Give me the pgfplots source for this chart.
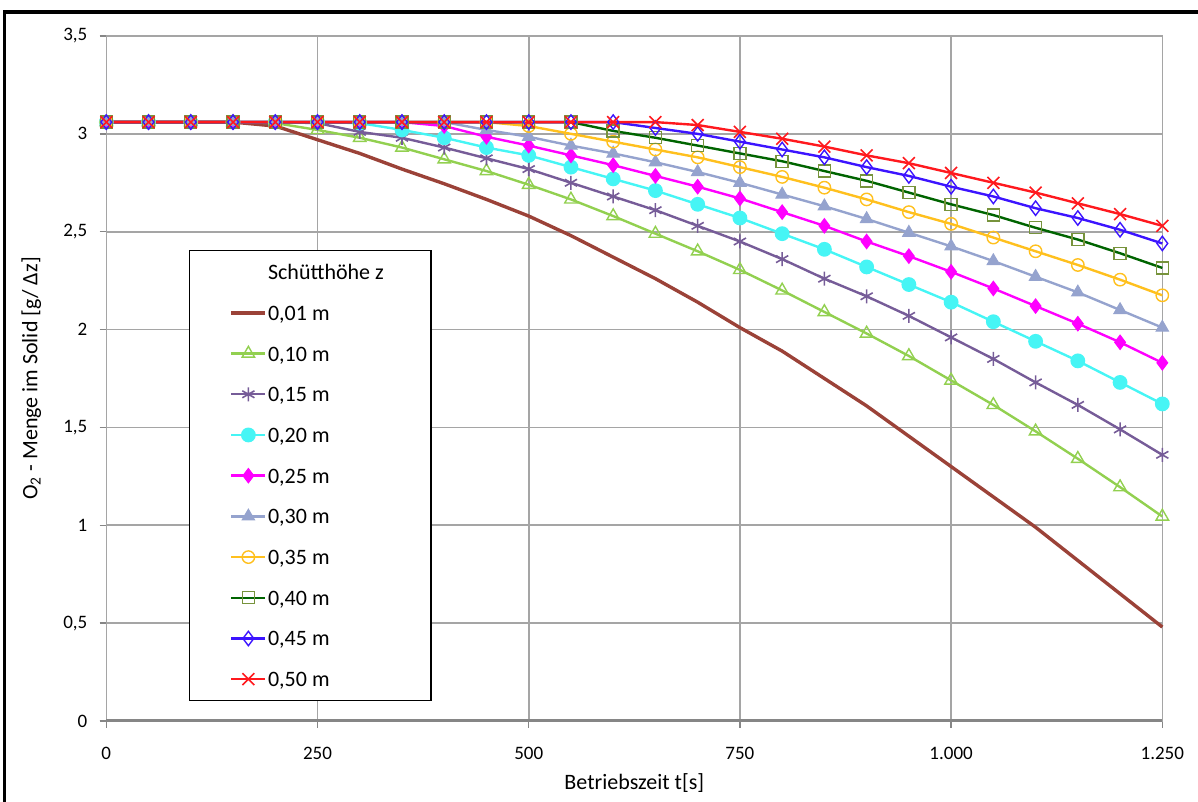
\documentclass[border=0pt]{standalone}
\usepackage{pgfplots}
\pgfplotsset{compat=1.18}
\usepackage{pgfplotstable}
\usepackage{fontspec}
\setmainfont{Carlito}

\definecolor{c01}{RGB}{155,66,56}
\definecolor{c10}{RGB}{146,208,80}
\definecolor{c15}{RGB}{118,92,152}
\definecolor{c20}{RGB}{70,245,245}
\definecolor{c25}{RGB}{255,0,255}
\definecolor{c30}{RGB}{149,163,206}
\definecolor{c35}{RGB}{255,192,30}
\definecolor{c40l}{RGB}{0,100,0}
\definecolor{c40m}{RGB}{119,147,60}
\definecolor{c45}{RGB}{60,20,255}
\definecolor{c50}{RGB}{255,25,30}
\definecolor{gridgray}{RGB}{165,165,165}
\definecolor{axgray}{RGB}{134,134,134}

\pgfplotstableread{
t    s01   s10   s15   s20   s25   s30   s35   s40   s45   s50
0    3.06  3.06  3.06  3.06  3.06  3.06  3.06  3.06  3.06  3.06
50   3.06  3.06  3.06  3.06  3.06  3.06  3.06  3.06  3.06  3.06
100  3.06  3.06  3.06  3.06  3.06  3.06  3.06  3.06  3.06  3.06
150  3.06  3.06  3.06  3.06  3.06  3.06  3.06  3.06  3.06  3.06
200  3.04  3.055 3.06  3.06  3.06  3.06  3.06  3.06  3.06  3.06
250  2.97  3.02  3.055 3.06  3.06  3.06  3.06  3.06  3.06  3.06
300  2.90  2.98  3.01  3.055 3.06  3.06  3.06  3.06  3.06  3.06
350  2.82  2.93  2.98  3.02  3.06  3.06  3.06  3.06  3.06  3.06
400  2.745 2.87  2.93  2.98  3.04  3.06  3.06  3.06  3.06  3.06
450  2.665 2.81  2.875 2.93  2.985 3.02  3.06  3.06  3.06  3.06
500  2.58  2.74  2.82  2.89  2.94  2.985 3.04  3.06  3.06  3.06
550  2.48  2.665 2.75  2.83  2.89  2.94  3.00  3.06  3.06  3.06
600  2.37  2.58  2.68  2.77  2.84  2.90  2.96  3.015 3.06  3.06
650  2.26  2.49  2.61  2.71  2.785 2.855 2.92  2.98  3.03  3.06
700  2.14  2.40  2.53  2.64  2.73  2.805 2.88  2.94  3.00  3.045
750  2.01  2.305 2.45  2.57  2.67  2.75  2.83  2.90  2.96  3.01
800  1.89  2.20  2.36  2.49  2.60  2.69  2.78  2.86  2.92  2.975
850  1.75  2.09  2.26  2.41  2.53  2.63  2.725 2.81  2.88  2.935
900  1.61  1.98  2.17  2.32  2.45  2.565 2.665 2.76  2.83  2.89
950  1.455 1.865 2.07  2.23  2.375 2.495 2.60  2.70  2.785 2.85
1000 1.30  1.74  1.96  2.14  2.295 2.425 2.54  2.64  2.73  2.80
1050 1.145 1.615 1.85  2.04  2.21  2.35  2.47  2.585 2.68  2.75
1100 0.99  1.48  1.73  1.94  2.12  2.27  2.40  2.52  2.62  2.70
1150 0.82  1.34  1.615 1.84  2.03  2.19  2.33  2.46  2.57  2.645
1200 0.65  1.195 1.49  1.73  1.935 2.10  2.255 2.39  2.51  2.59
1250 0.48  1.045 1.36  1.62  1.83  2.01  2.175 2.315 2.44  2.53
}\datatable

\begin{document}
\fontsize{11pt}{13pt}\selectfont
\begin{tikzpicture}
\useasboundingbox (0,0) rectangle (599pt,401pt);
\draw[line width=1.6pt] (2.2pt,-2pt) -- (2.2pt,395pt) -- (601pt,395pt);
\begin{axis}[
  at={(53.15pt,40.5pt)}, anchor=south west,
  scale only axis, width=528pt, height=342.5pt,
  xmin=0, xmax=1250, ymin=0, ymax=3.5,
  xtick={0,250,500,750,1000,1250},
  ytick={0,0.5,1,1.5,2,2.5,3,3.5},
  tick pos=left, tick align=outside,
  major tick length=3.3pt,
  tick style={color=axgray, line width=0.7pt},
  axis line style={color=gridgray, line width=0.8pt},
  grid=major,
  major grid style={color=gridgray, line width=0.8pt},
  extra y ticks={0}, extra y tick labels={},
  extra y tick style={grid=major, major grid style={color=axgray, line width=1.5pt}},
  clip=false,
  /pgf/number format/assume math mode=true,
  xticklabel style={font=\fontsize{9.5pt}{11pt}\selectfont, /pgf/number format/1000 sep={.}, inner sep=0pt, anchor=north, yshift=-9.7pt},
  yticklabel style={font=\fontsize{9.5pt}{11pt}\selectfont, /pgf/number format/use comma, inner sep=0pt, anchor=east, xshift=-6pt},
  xlabel={Betriebszeit t[s]},
  ylabel={O\textsubscript{2} - Menge im Solid [g/ Δz]},
  xlabel style={at={(axis description cs:0.5,0)}, anchor=center, yshift=-31pt},
  ylabel style={at={(axis description cs:-0.071,0.5)}, anchor=center},
  legend image code/.code={\draw[mark repeat=2,mark phase=2] plot coordinates {(0pt,0pt) (8.5pt,0pt) (17pt,0pt)};},
  legend cell align=left,
  legend style={at={(0.0783,0.6876)}, anchor=north west, draw=black, line width=0.7pt, fill=white,
    inner xsep=20pt, inner ysep=6pt, row sep=10.85pt,
    nodes={inner xsep=0.5pt, inner ysep=0pt, text height=8.5pt, text depth=1pt}},
]
\addlegendimage{empty legend}
\addlegendentry{\makebox[61pt][l]{Schütthöhe z}}
\addplot[color=c01, line width=1.7pt, mark=none] table[x=t,y=s01]{\datatable};
\addlegendentry{\makebox[61pt][l]{0,01 m}}
\addplot[color=c10, line width=1.2pt, mark=triangle, mark size=3.6pt, mark options={solid, line width=0.7pt}] table[x=t,y=s10]{\datatable};
\addlegendentry{\makebox[61pt][l]{0,10 m}}
\addplot[color=c15, line width=1.2pt, mark=asterisk, mark size=3.5pt, mark options={solid, line width=0.8pt}] table[x=t,y=s15]{\datatable};
\addlegendentry{\makebox[61pt][l]{0,15 m}}
\addplot[color=c20, line width=1.2pt, mark=*, mark size=3.1pt, mark options={solid, fill=c20}] table[x=t,y=s20]{\datatable};
\addlegendentry{\makebox[61pt][l]{0,20 m}}
\addplot[color=c25, line width=1.2pt, mark=diamond*, mark size=3.6pt, mark options={solid, fill=c25, line width=0.5pt}] table[x=t,y=s25]{\datatable};
\addlegendentry{\makebox[61pt][l]{0,25 m}}
\addplot[color=c30, line width=1.2pt, mark=triangle*, mark size=3.6pt, mark options={solid, fill=c30, line width=0.5pt}] table[x=t,y=s30]{\datatable};
\addlegendentry{\makebox[61pt][l]{0,30 m}}
\addplot[color=c35, line width=1.2pt, mark=o, mark size=3.1pt, mark options={solid, line width=0.7pt}] table[x=t,y=s35]{\datatable};
\addlegendentry{\makebox[61pt][l]{0,35 m}}
\addplot[color=c40l, line width=1.2pt, mark=square, mark size=3pt, mark options={solid, draw=c40m, line width=0.7pt}] table[x=t,y=s40]{\datatable};
\addlegendentry{\makebox[61pt][l]{0,40 m}}
\addplot[color=c45, line width=1.2pt, mark=diamond, mark size=3.6pt, mark options={solid, line width=0.7pt}] table[x=t,y=s45]{\datatable};
\addlegendentry{\makebox[61pt][l]{0,45 m}}
\addplot[color=c50, line width=1.2pt, mark=x, mark size=4.2pt, mark options={solid, line width=0.8pt}] table[x=t,y=s50]{\datatable};
\addlegendentry{\makebox[61pt][l]{0,50 m}}
\end{axis}
\end{tikzpicture}
\end{document}
